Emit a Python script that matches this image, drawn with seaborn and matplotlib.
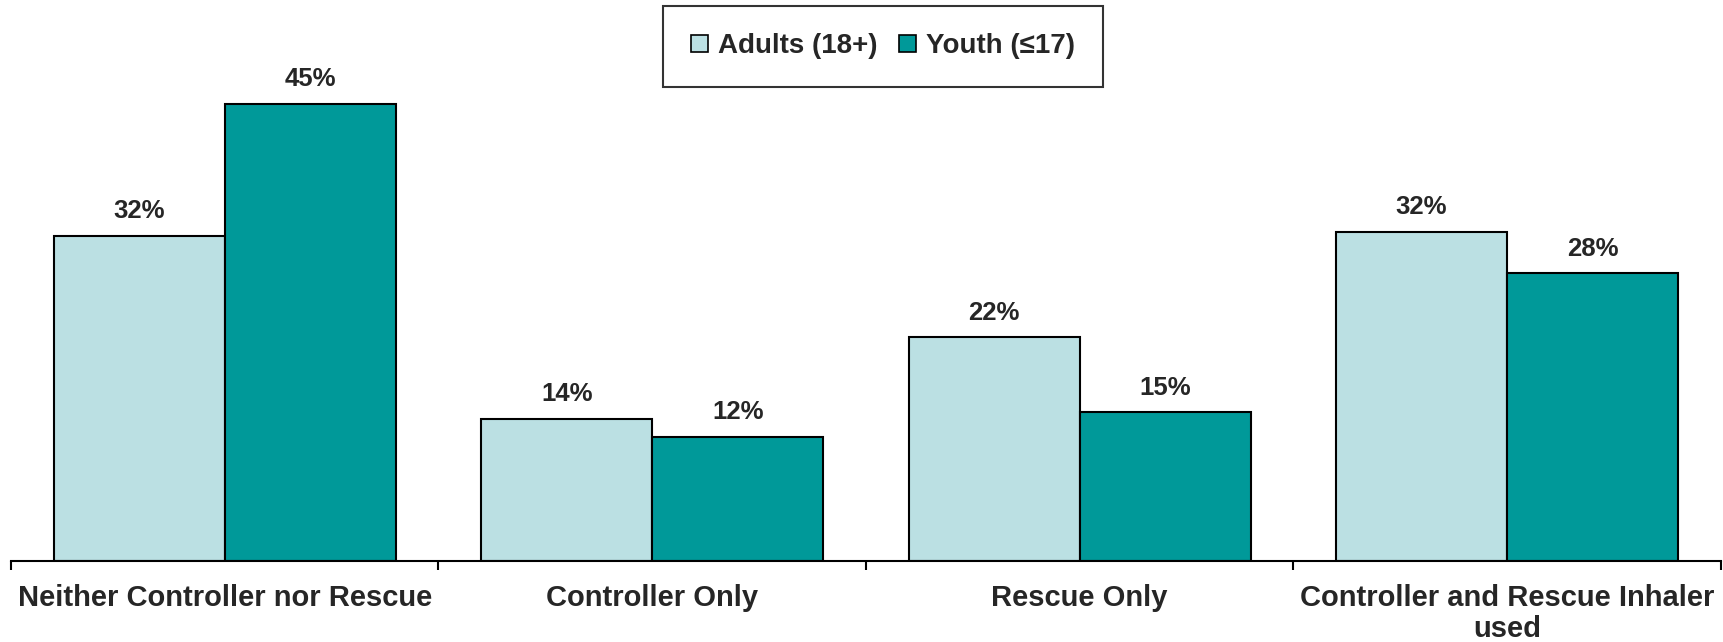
import pandas as pd
import numpy as np
import matplotlib
matplotlib.use("Agg")
import matplotlib.pyplot as plt
import seaborn as sns

sns.set_style('white')
plt.rcParams['font.family'] = ['Liberation Sans', 'DejaVu Sans']
plt.rcParams['font.weight'] = 'bold'

# values (percent)
categories = ['Neither Controller nor Rescue', 'Controller Only', 'Rescue Only',
              'Controller and Rescue Inhaler\nused']
adults = [32.0, 14.0, 22.0, 32.4]
youth = [45.0, 12.2, 14.6, 28.3]
groups = ['Adults (18+)', 'Youth (\u226417)']
colors = ['#BBE0E3', '#009999']

df = pd.DataFrame({
    'category': categories * 2,
    'value': adults + youth,
    'group': [groups[0]] * len(categories) + [groups[1]] * len(categories),
})

fig = plt.figure(figsize=(17.24, 6.42), dpi=100)
ax = fig.add_axes([0.0064, 0.1266, 0.9917, 0.8734])

sns.barplot(data=df, x='category', y='value', hue='group', palette=colors,
            saturation=1, edgecolor='black', linewidth=1.5, width=0.8,
            errorbar=None, ax=ax)

for cont in ax.containers:
    ax.bar_label(cont, labels=[f'{b.get_height():.0f}%' for b in cont],
                 padding=9, fontsize=18.5, fontweight='bold')

ax.set_xlim(-0.5, 3.5)
ax.set_ylim(0, 55.2)
ax.set_xlabel('')
ax.set_ylabel('')
ax.set_yticks([])
for s in ['top', 'right', 'left']:
    ax.spines[s].set_visible(False)
ax.spines['bottom'].set_color('black')
ax.spines['bottom'].set_linewidth(1.5)

# category labels centred, tick marks at the group boundaries
ax.tick_params(axis='x', which='major', length=0, pad=17, labelsize=21)
ax.set_xticks(np.arange(-0.5, 4, 1), minor=True)
ax.tick_params(axis='x', which='minor', bottom=True, length=6.5, width=1.5,
               color='black', direction='out')
for t in ax.get_xticklabels():
    t.set_fontweight('bold')
    t.set_linespacing(1.1)

leg = ax.legend(loc='upper center', bbox_to_anchor=(0.51, 0.99), ncol=2,
                prop={'size': 20, 'weight': 'bold'}, frameon=True, fancybox=False,
                handlelength=0.6, handleheight=0.6, handletextpad=0.35,
                columnspacing=0.8, borderpad=1.0, borderaxespad=0)
leg.get_frame().set_edgecolor('black')
leg.get_frame().set_linewidth(1.5)
for h in leg.legend_handles:
    h.set_edgecolor('black')
    h.set_linewidth(1.2)

fig.savefig('out.png', dpi=100)
